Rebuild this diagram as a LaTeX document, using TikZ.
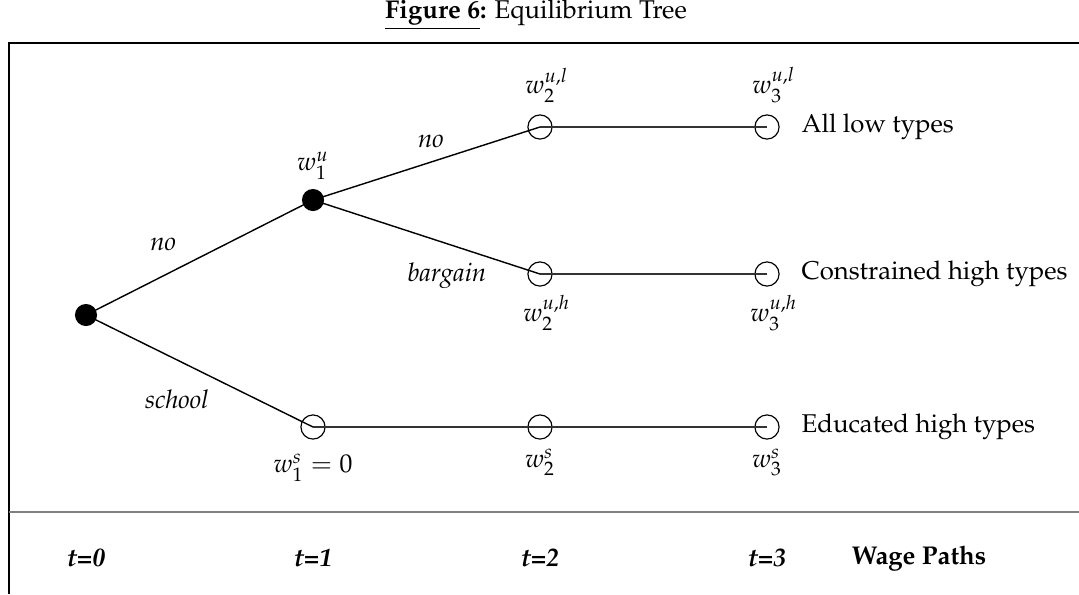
\documentclass[tikz,border=0pt]{standalone}
\usepackage[T1]{fontenc}
\usepackage{mathpazo}
\usetikzlibrary{positioning}

\tikzset{
  solidnode/.style={circle, fill=black, inner sep=0pt, minimum size=8.6pt},
  opennode/.style={circle, draw, inner sep=0pt, minimum size=9.4pt, line width=0.45pt},
  branch/.style={line width=0.55pt},
  wageline/.style={line width=0.55pt, black!80},
  period/.style={font=\bfseries\itshape}
}

\begin{document}
\begin{tikzpicture}[x=0.389pt, y=-0.389pt]
    \useasboundingbox (0,0) rectangle (1079,594);

    % cadre et titre
    \draw[line width=0.8pt] (9,594) -- (9,43) -- (1079,43);
    \draw[gray, line width=0.8pt] (9,512) -- (1079,512);
    \node (title) at (536,15) {\textbf{\underline{Figure 6}:} Equilibrium Tree};

    % les noeuds de l'arbre
    \node[solidnode] (r) at (86,315) {};
    \node[solidnode] (u1) at (313,200) {};
    \node[opennode] (s1) at (313,427) {};
    \node[opennode] (l2) at (540,127) {};
    \node[opennode] (h2) at (540,274) {};
    \node[opennode] (s2) at (540,427) {};
    \node[opennode] (l3) at (767,127) {};
    \node[opennode] (h3) at (767,274) {};
    \node[opennode] (s3) at (767,427) {};

    % branches
    \draw[branch] (r.center) -- node[pos=.34, above=6pt] {\textit{no}} (u1.center);
    \draw[branch] (r.center) -- node[pos=.4, below=8pt] {\textit{school}} (s1.center);
    \draw[branch] (u1.center) -- node[pos=.52, above=2pt] {\textit{no}} (l2.center);
    \draw[branch] (u1.center) -- node[pos=.59, below=4pt] {\textit{bargain}} (h2.center);
    \draw[wageline] (l2.center) -- (l3.center);
    \draw[wageline] (h2.center) -- (h3.center);
    \draw[wageline] (s1.center) -- (s2.center) -- (s3.center);

    % salaires
    \node[above=0pt of u1] (wu1) {$w_1^u$};
    \node[above=1pt of l2, xshift=2.7pt] (wl2) {$w_2^{u,l}$};
    \node[above=1pt of l3, xshift=2.7pt] (wl3) {$w_3^{u,l}$};
    \node[below=0pt of h2, xshift=2.7pt] (wh2) {$w_2^{u,h}$};
    \node[below=0pt of h3, xshift=2.7pt] (wh3) {$w_3^{u,h}$};
    \node[below=2pt of s1] (ws1) {$w_1^s = 0$};
    \node[below=0pt of s2] (ws2) {$w_2^s$};
    \node[below=0pt of s3] (ws3) {$w_3^s$};

    % types
    \node[right=5pt of l3] (tl) {All low types};
    \node[right=5pt of h3] (th) {Constrained high types};
    \node[right=5pt of s3] (ts) {Educated high types};

    % axe du temps
    \coordinate (base) at (0,558);
    \node[period] (t0) at (r |- base) {t=0};
    \node[period] (t1) at (u1 |- base) {t=1};
    \node[period] (t2) at (l2 |- base) {t=2};
    \node[period] (t3) at (l3 |- base) {t=3};
    \node[font=\bfseries] (wp) at (919,558) {Wage Paths};
\end{tikzpicture}
\end{document}
